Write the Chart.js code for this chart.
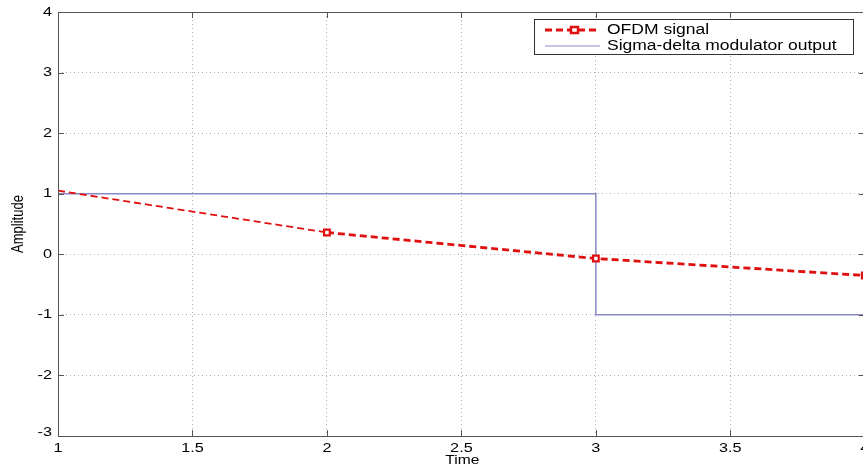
<!DOCTYPE html>
<html>
<head>
<meta charset="utf-8">
<script src="https://cdn.jsdelivr.net/npm/chart.js@4/dist/chart.umd.min.js"></script>
<style>
  html, body { margin: 0; padding: 0; background: #fff; overflow: hidden; width: 863px; height: 470px; }
</style>
</head>
<body>
<!-- el lienzo es algo más ancho: en el original el eje x se sale por la derecha -->
<canvas id="grafico" width="871" height="470"></canvas>
<script>
const tiempo = [1, 2, 3, 4];
const senalOFDM = [1.05, 0.36, -0.07, -0.35];
const tiempoSD = [1, 3, 4];
const salidaSD = [1, -1, -1];
const ticksX = [1, 1.5, 2, 2.5, 3, 3.5, 4];
const ticksY = [-3, -2, -1, 0, 1, 2, 3, 4];

const FUENTE = '"Liberation Sans", Arial, sans-serif';
const ESTIRA = 1.25; // la figura original viene estirada a lo ancho

function texto(ctx, t, x, y, align, size) {
  ctx.save();
  ctx.font = size + 'px ' + FUENTE;
  ctx.textBaseline = 'middle';
  ctx.textAlign = align;
  ctx.translate(x, y);
  ctx.scale(ESTIRA, 1);
  ctx.fillText(t, 0, 0);
  ctx.restore();
}

// caja de ejes estilo MATLAB, marcas hacia dentro, etiquetas y leyenda
const cajaMatlab = {
  id: 'cajaMatlab',
  afterDraw(chart) {
    const { ctx, chartArea: a, scales } = chart;
    ctx.save();
    ctx.strokeStyle = '#555';
    ctx.lineWidth = 1;
    ctx.strokeRect(a.left + 0.5, a.top + 0.5, a.right - a.left, a.bottom - a.top);
    ctx.beginPath();
    ticksX.forEach(v => {
      const x = Math.round(scales.x.getPixelForValue(v)) + 0.5;
      ctx.moveTo(x, a.bottom); ctx.lineTo(x, a.bottom - 6);
      ctx.moveTo(x, a.top); ctx.lineTo(x, a.top + 6);
    });
    ticksY.forEach(v => {
      const y = Math.round(scales.y.getPixelForValue(v)) + 0.5;
      ctx.moveTo(a.left, y); ctx.lineTo(a.left + 6, y);
      ctx.moveTo(a.right, y); ctx.lineTo(a.right - 6, y);
    });
    ctx.stroke();

    // etiquetas de los ejes
    ctx.fillStyle = '#000';
    ticksX.forEach(v => {
      texto(ctx, String(v), scales.x.getPixelForValue(v), a.bottom + 12, 'center', 13);
    });
    ticksY.forEach(v => {
      let y = scales.y.getPixelForValue(v);
      if (v === -3) { y -= 4; }
      texto(ctx, String(v), a.left - 6, y, 'right', 13);
    });
    texto(ctx, 'Time', scales.x.getPixelForValue(2.5) + 1, 461, 'center', 12.5);
    ctx.save();
    ctx.font = '13px ' + FUENTE;
    ctx.textAlign = 'center';
    ctx.textBaseline = 'middle';
    ctx.translate(19, (a.top + a.bottom) / 2);
    ctx.scale(ESTIRA, 1);
    ctx.rotate(-Math.PI / 2);
    ctx.fillText('Amplitude', 0, 0);
    ctx.restore();

    // leyenda
    const lx = 534, ly = 19, lw = 319, lh = 35;
    ctx.fillStyle = '#fff';
    ctx.fillRect(lx, ly, lw, lh);
    ctx.strokeStyle = '#333';
    ctx.lineWidth = 1;
    ctx.strokeRect(lx + 0.5, ly + 0.5, lw, lh);
    const ds = chart.data.datasets;
    const y1 = ly + 11;
    ctx.strokeStyle = ds[0].borderColor;
    ctx.lineWidth = 2.8;
    ctx.setLineDash([7, 4]);
    ctx.beginPath(); ctx.moveTo(lx + 11, y1); ctx.lineTo(lx + 66, y1); ctx.stroke();
    ctx.setLineDash([]);
    ctx.lineWidth = 2.5;
    ctx.fillStyle = '#fff';
    ctx.fillRect(lx + 37, y1 - 3, 7, 6);
    ctx.strokeRect(lx + 37, y1 - 3, 7, 6);
    const y2 = ly + 27;
    ctx.strokeStyle = ds[1].borderColor;
    ctx.lineWidth = 1.2;
    ctx.beginPath(); ctx.moveTo(lx + 11, y2); ctx.lineTo(lx + 66, y2); ctx.stroke();
    ctx.fillStyle = '#000';
    texto(ctx, 'OFDM signal', lx + 73, y1, 'left', 14);
    texto(ctx, 'Sigma-delta modulator output', lx + 73, y2, 'left', 14);
    ctx.restore();
  }
};

new Chart(document.getElementById('grafico').getContext('2d'), {
  type: 'line',
  data: {
    datasets: [
      {
        label: 'OFDM signal',
        data: tiempo.map((t, i) => ({ x: t, y: senalOFDM[i] })),
        borderColor: '#e01010',
        backgroundColor: '#fff',
        borderWidth: 2.5,
        borderDash: [7, 4],
        pointStyle: 'rect',
        pointRadius: [0, 4, 4, 4],
        pointBorderWidth: 2.2,
        pointBorderColor: '#e01010',
        pointBackgroundColor: '#fff',
        segment: {
          borderWidth: c => c.p0DataIndex === 0 ? 1.8 : 2.8
        },
        tension: 0,
        order: 0
      },
      {
        label: 'Sigma-delta modulator output',
        data: tiempoSD.map((t, i) => ({ x: t, y: salidaSD[i] })),
        borderColor: '#8a8ac8',
        borderWidth: 1.5,
        stepped: 'before',
        pointRadius: 0,
        order: 1
      }
    ]
  },
  options: {
    responsive: false,
    animation: false,
    layout: { padding: { top: 12, right: 0, left: 0, bottom: 0 } },
    scales: {
      x: {
        type: 'linear',
        min: 1,
        max: 4,
        afterBuildTicks: s => { s.ticks = ticksX.map(v => ({ value: v })); },
        afterFit: s => { s.height = 34; s.paddingLeft = 0; s.paddingRight = 0; },
        grid: { color: '#b0b0b0', drawTicks: false },
        border: { display: false, dash: [1, 3] },
        ticks: { display: false }
      },
      y: {
        type: 'linear',
        min: -3,
        max: 4,
        afterBuildTicks: s => { s.ticks = ticksY.map(v => ({ value: v })); },
        afterFit: s => { s.width = 58; s.paddingTop = 0; s.paddingBottom = 0; },
        grid: { color: '#b0b0b0', drawTicks: false },
        border: { display: false, dash: [1, 3] },
        ticks: { display: false }
      }
    },
    plugins: {
      legend: { display: false },
      tooltip: { enabled: false }
    }
  },
  plugins: [cajaMatlab]
});
</script>
</body>
</html>
